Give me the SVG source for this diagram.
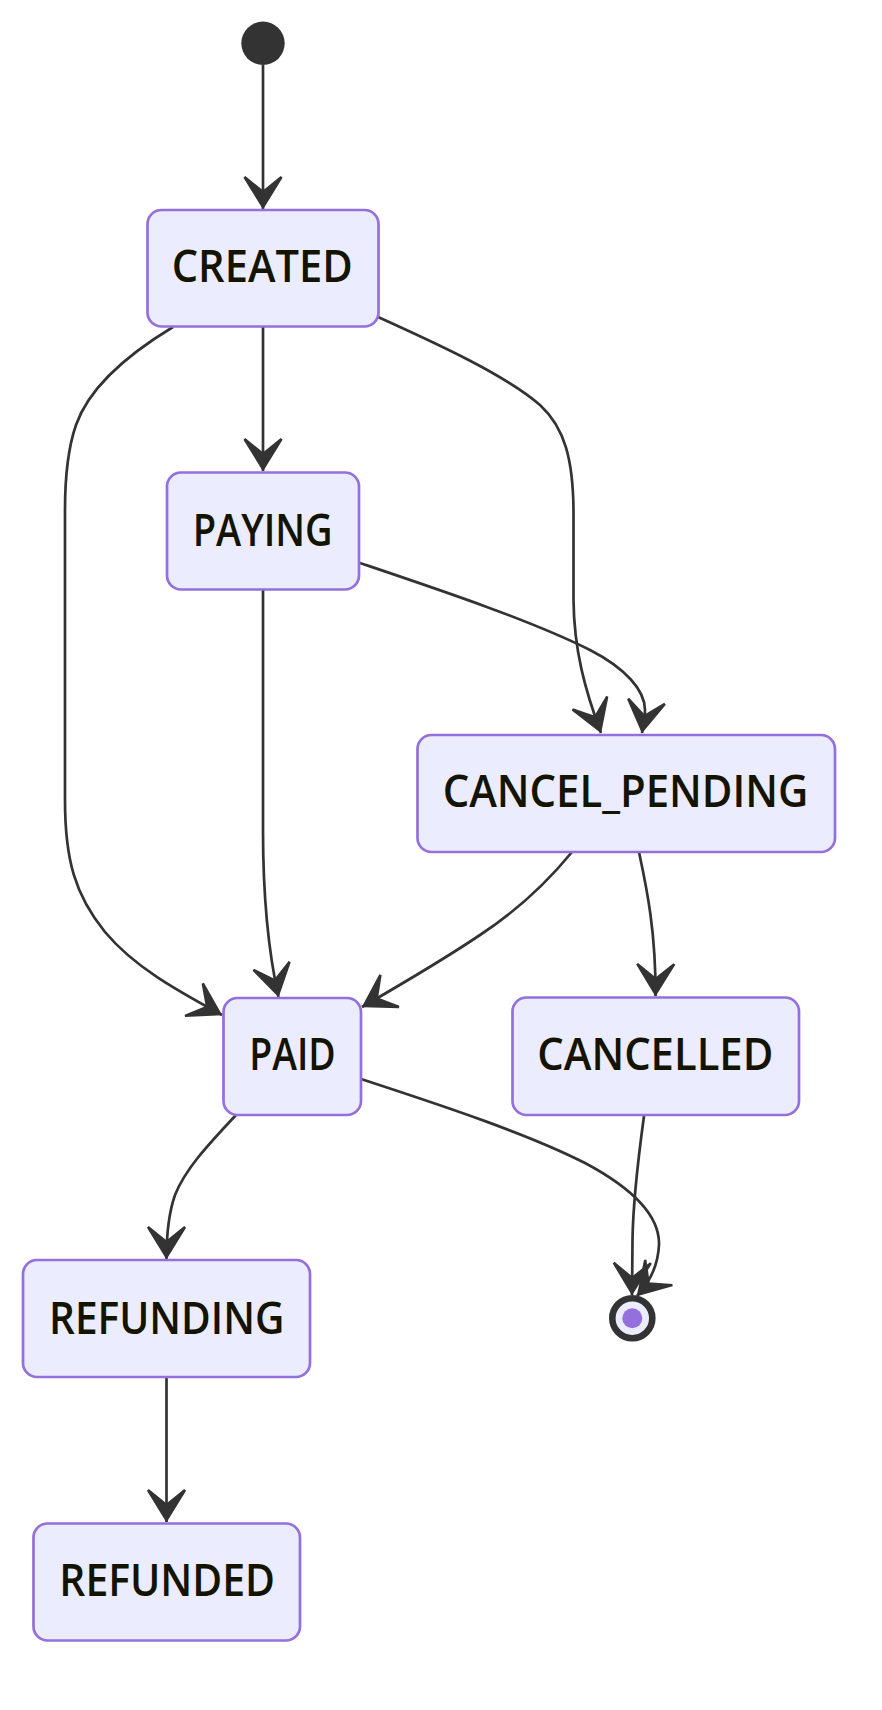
<svg xmlns="http://www.w3.org/2000/svg" width="882" height="1710" viewBox="0 0 882 1710">
<defs>
<style>
.node rect{fill:#ECECFF;stroke:#9370DB;stroke-width:2.7}
.node text{font-family:"Open Sans","Noto Sans","Liberation Sans",sans-serif;font-size:45px;font-weight:600;fill:#131300;text-anchor:middle}
.edge{fill:none;stroke:#333;stroke-width:2.7;marker-end:url(#barb)}
</style>
<marker id="barb" viewBox="0 0 37 44" refX="35" refY="22" markerWidth="37" markerHeight="44" markerUnits="userSpaceOnUse" orient="auto">
<path d="M33,22 L3,3.5 L18,22 L3,40.5 Z" fill="#333" stroke="#333" stroke-width="2.5" stroke-linejoin="miter"/>
</marker>
</defs>
<rect width="882" height="1710" fill="#fff"/>
<g id="connectors">
<path class="edge" d="M263,65 L263,209"/>
<path class="edge" d="M263,327 L263,471"/>
<path class="edge" d="M173,327 C130,353 90,385 76,425 C68,448 65,475 65,510 L65,800 C65,860 75,895 105,932 C135,968 180,992 222,1015"/>
<path class="edge" d="M378,317 C440,345 505,375 540,405 C565,428 573,460 573.5,510 L573.5,600 C574,650 585,690 601,733"/>
<path class="edge" d="M360,563 C440,590 530,620 590,650 C625,668 645,690 645,710 C645,718 643,726 642,733"/>
<path class="edge" d="M263,590 L263,830 C263,900 268,950 278.5,997"/>
<path class="edge" d="M572,852 C545,885 515,912 480,935 C440,962 400,985 362,1007"/>
<path class="edge" d="M639,852 C646,885 656,930 655.5,996"/>
<path class="edge" d="M236,1115 C205,1148 185,1170 175,1195 C168,1215 166.5,1235 166.5,1259"/>
<path class="edge" d="M361,1079 C450,1108 530,1135 585,1163 C630,1187 660,1215 659,1245 C658,1265 650,1282 637,1296"/>
<path class="edge" d="M644,1116 C638,1160 633,1200 632.5,1240 L632,1295"/>
<path class="edge" d="M166.5,1378 L166.5,1522"/>
</g>
<g id="start">
<circle cx="263" cy="43.3" r="21.7" fill="#333"/>
</g>
<g id="CREATED" class="node">
<rect x="147.5" y="210" width="231" height="116.5" rx="14"/>
<text x="262.2" y="282" textLength="181" lengthAdjust="spacingAndGlyphs">CREATED</text>
</g>
<g id="PAYING" class="node">
<rect x="167" y="472.5" width="192" height="117" rx="14"/>
<text x="262.7" y="546" textLength="140" lengthAdjust="spacingAndGlyphs">PAYING</text>
</g>
<g id="CANCEL_PENDING" class="node">
<rect x="417.5" y="735" width="417.5" height="117" rx="14"/>
<text x="625.5" y="807" textLength="365.6" lengthAdjust="spacingAndGlyphs">CANCEL_PENDING</text>
</g>
<g id="PAID" class="node">
<rect x="223.5" y="998" width="137.5" height="117" rx="14"/>
<text x="292.5" y="1070" textLength="86.4" lengthAdjust="spacingAndGlyphs">PAID</text>
</g>
<g id="CANCELLED" class="node">
<rect x="512.5" y="997.5" width="286.5" height="117.5" rx="14"/>
<text x="655.3" y="1070" textLength="236" lengthAdjust="spacingAndGlyphs">CANCELLED</text>
</g>
<g id="REFUNDING" class="node">
<rect x="23" y="1260" width="287" height="117" rx="14"/>
<text x="166.7" y="1334" textLength="235.3" lengthAdjust="spacingAndGlyphs">REFUNDING</text>
</g>
<g id="REFUNDED" class="node">
<rect x="33.5" y="1523.5" width="266.5" height="117" rx="14"/>
<text x="167.2" y="1596" textLength="215.7" lengthAdjust="spacingAndGlyphs">REFUNDED</text>
</g>
<g id="end">
<circle cx="632.3" cy="1318.3" r="20" fill="#ECECFF" stroke="#333" stroke-width="6.6"/>
<circle cx="632.3" cy="1318.3" r="10" fill="#9370DB"/>
</g>
</svg>
